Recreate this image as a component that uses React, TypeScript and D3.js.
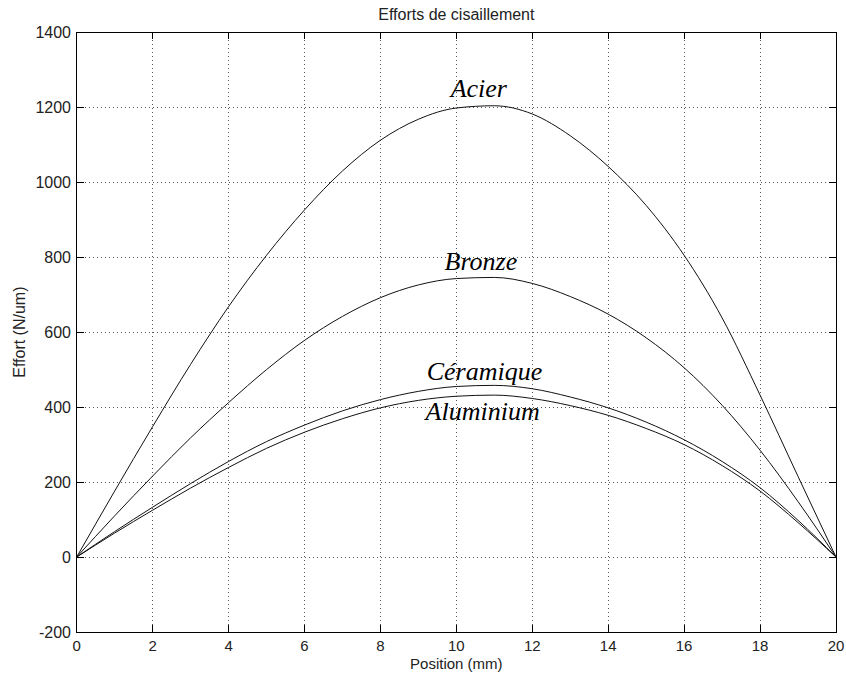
import React from "react";
import * as d3 from "d3";

const positions = [0, 1, 2, 3, 4, 5, 6, 7, 8, 9, 10, 11, 12, 13, 14, 15, 16, 17, 18, 19, 20];
const acier = [0, 176, 348, 514, 668, 805, 926, 1030, 1112, 1168, 1198, 1204, 1182, 1124, 1042, 938, 805, 638, 432, 215, 0];
const bronze = [0, 110, 216, 318, 412, 500, 578, 642, 692, 726, 743, 746, 730, 695, 648, 585, 505, 405, 285, 148, 0];
const ceramique = [0, 68, 133, 196, 255, 308, 352, 390, 420, 442, 455, 458, 449, 427, 398, 360, 313, 255, 185, 98, 0];
const aluminium = [0, 64, 125, 184, 239, 290, 333, 369, 398, 418, 429, 432, 423, 404, 378, 343, 300, 244, 176, 92, 0];

const seriesNames = ["Acier", "Bronze", "Céramique", "Aluminium"];
const seriesValues = [acier, bronze, ceramique, aluminium];
// label anchor points in data coordinates (x position, effort)
const labelX = [9.85, 9.69, 9.22, 9.19];
const labelY = [1227, 765, 472, 365];

const xTicks = [0, 2, 4, 6, 8, 10, 12, 14, 16, 18, 20];
const yTicks = [-200, 0, 200, 400, 600, 800, 1000, 1200, 1400];

const title = "Efforts de cisaillement";
const xLabel = "Position (mm)";
const yLabel = "Effort (N/um)";

export default function App() {
  const W = 846;
  const H = 680;
  const left = 76.7;
  const right = 836;
  const top = 32.3;
  const bottom = 632;
  const x = d3.scaleLinear().domain([0, 20]).range([left, right]);
  const y = d3.scaleLinear().domain([-200, 1400]).range([bottom, top]);
  const line = d3
    .line<number>()
    .x((_, i) => x(positions[i]))
    .y((d) => y(d))
    .curve(d3.curveMonotoneX);
  const sans = "'Liberation Sans', Arial, Helvetica, sans-serif";
  const serif = "'Liberation Serif', 'Times New Roman', serif";
  const tickLen = 7;

  return (
    <svg
      width={W}
      height={H}
      style={{ position: "absolute", left: 0, top: 0, background: "#fff" }}
    >
      <rect x={0} y={0} width={W} height={H} fill="#fff" />
      {/* grid */}
      <g stroke="#555" strokeWidth={1} strokeDasharray="1,3" shapeRendering="crispEdges">
        {xTicks.slice(1, -1).map((t) => (
          <line key={"gx" + t} x1={x(t)} x2={x(t)} y1={top} y2={bottom} />
        ))}
        {yTicks.slice(1, -1).map((t) => (
          <line key={"gy" + t} x1={left} x2={right} y1={y(t)} y2={y(t)} />
        ))}
      </g>
      {/* ticks */}
      <g stroke="#000" strokeWidth={1} shapeRendering="crispEdges">
        {xTicks.map((t) => (
          <g key={"tx" + t}>
            <line x1={x(t)} x2={x(t)} y1={bottom} y2={bottom - tickLen} />
            <line x1={x(t)} x2={x(t)} y1={top} y2={top + tickLen} />
          </g>
        ))}
        {yTicks.map((t) => (
          <g key={"ty" + t}>
            <line x1={left} x2={left + tickLen} y1={y(t)} y2={y(t)} />
            <line x1={right} x2={right - tickLen} y1={y(t)} y2={y(t)} />
          </g>
        ))}
      </g>
      {/* curves */}
      <g fill="none" stroke="#111" strokeWidth={1}>
        {seriesValues.map((vals, i) => (
          <path key={seriesNames[i]} d={line(vals) || ""} />
        ))}
      </g>
      {/* box */}
      <rect
        x={left}
        y={top}
        width={right - left}
        height={bottom - top}
        fill="none"
        stroke="#000"
        strokeWidth={1}
        shapeRendering="crispEdges"
      />
      {/* tick labels */}
      <g fontFamily={sans} fontSize={16} fill="#222">
        {xTicks.map((t) => (
          <text key={"lx" + t} x={x(t)} y={651} fontSize={15} textAnchor="middle">
            {t}
          </text>
        ))}
        {yTicks.map((t) => (
          <text key={"ly" + t} x={71} y={y(t) + 6} textAnchor="end">
            {t}
          </text>
        ))}
      </g>
      {/* titles */}
      <text x={(left + right) / 2} y={20} textAnchor="middle" fontFamily={sans} fontSize={16} fill="#222">
        {title}
      </text>
      <text x={(left + right) / 2} y={669} textAnchor="middle" fontFamily={sans} fontSize={15} fill="#222">
        {xLabel}
      </text>
      <text
        transform={`translate(25, ${(top + bottom) / 2}) rotate(-90)`}
        textAnchor="middle"
        fontFamily={sans}
        fontSize={16}
        fill="#222"
      >
        {yLabel}
      </text>
      {/* curve labels */}
      <g fontFamily={serif} fontStyle="italic" fontSize={26} fill="#000">
        {seriesNames.map((n, i) => (
          <text key={"n" + n} x={x(labelX[i])} y={y(labelY[i])}>
            {n}
          </text>
        ))}
      </g>
    </svg>
  );
}
